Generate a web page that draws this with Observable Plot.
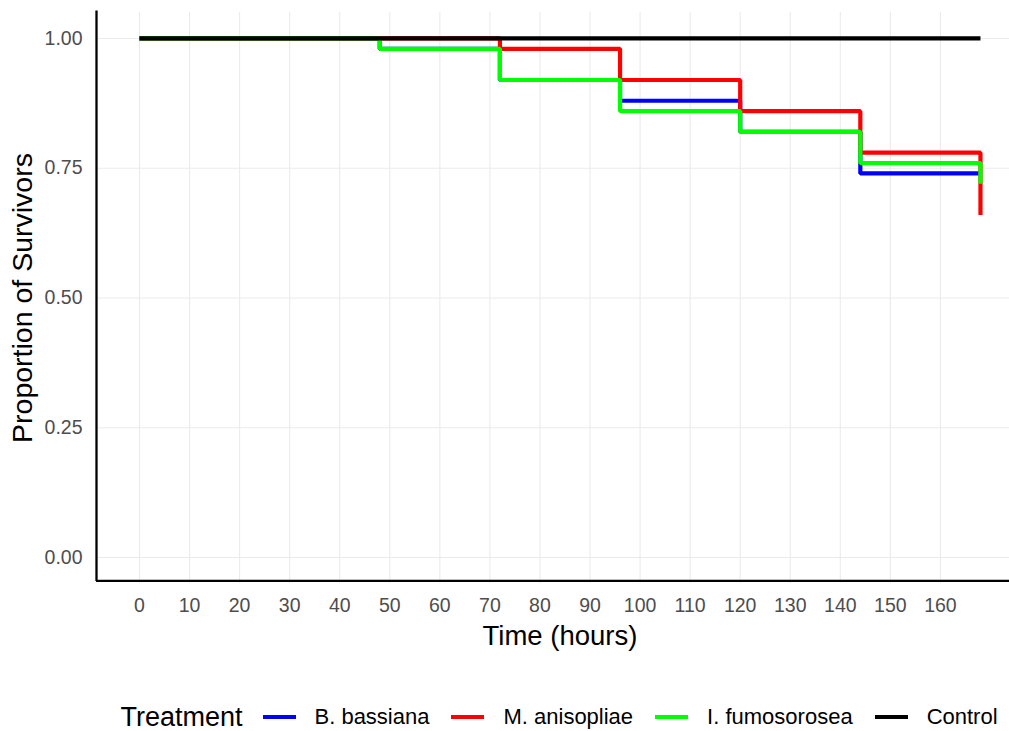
<!DOCTYPE html>
<html>
<head>
<meta charset="utf-8">
<script src="https://cdn.jsdelivr.net/npm/d3@7"></script>
<script src="https://cdn.jsdelivr.net/npm/@observablehq/plot@0.6"></script>
<style>
  html, body { margin: 0; padding: 0; background: #fff; overflow: hidden; }
  body { width: 1009px; height: 731px; font-family: "Liberation Sans", Arial, sans-serif; }
  #legend { box-sizing: border-box; width: 1009px; padding-left: 109px; height: 74px; display: flex; justify-content: center; align-items: center; font-family: "Liberation Sans", Arial, sans-serif; color: #000; white-space: nowrap; line-height: 1; }
  #legend .title { font-size: 27px; margin-right: 20px; line-height: 1; }
  #legend .key { width: 33px; height: 4px; margin-right: 19px; flex: none; }
  #legend .lab { font-size: 22px; margin-right: 22px; line-height: 1; }
</style>
</head>
<body>
<div id="chart"></div>
<div id="legend"></div>
<script>
// Data
const times = [0, 48, 72, 96, 120, 144, 168];
const series = ["B. bassiana", "M. anisopliae", "I. fumosorosea", "Control"];
const colors = ["#0000FF", "#FF0000", "#00FF00", "#000000"];
const bBassiana = [1.00, 0.98, 0.92, 0.88, 0.82, 0.74, 0.74];
const mAnisopliae = [1.00, 1.00, 0.98, 0.92, 0.86, 0.78, 0.66];
const iFumosorosea = [1.00, 0.98, 0.92, 0.86, 0.82, 0.76, 0.72];
const control = [1.00, 1.00, 1.00, 1.00, 1.00, 1.00, 1.00];
const xTicks = [0, 10, 20, 30, 40, 50, 60, 70, 80, 90, 100, 110, 120, 130, 140, 150, 160];
const yTicks = [0, 0.25, 0.5, 0.75, 1];

const values = [bBassiana, mAnisopliae, iFumosorosea, control];
const rows = [];
series.forEach((s, i) => times.forEach((t, j) => rows.push({treatment: s, time: t, surv: values[i][j]})));

const xDomain = [-8.59, 173.8];
const yDomain = [-0.05, 1.05];

const chart = Plot.plot({
  width: 1009,
  height: 680,
  marginLeft: 96,
  marginRight: 0,
  marginTop: 12,
  marginBottom: 97,
  style: {fontFamily: "Liberation Sans, Arial, sans-serif", background: "#fff"},
  x: {domain: xDomain},
  y: {domain: yDomain},
  color: {domain: series, range: colors},
  marks: [
    Plot.gridX(xTicks, {stroke: "#EBEBEB", strokeOpacity: 1, strokeWidth: 1.1}),
    Plot.gridY(yTicks, {stroke: "#EBEBEB", strokeOpacity: 1, strokeWidth: 1.1}),
    Plot.axisX(xTicks, {tickSize: 0, tickPadding: 15, fontSize: 19.5, fill: "#4D4D4D", label: null}),
    Plot.axisY(yTicks, {tickSize: 0, tickPadding: 14, fontSize: 19.5, fill: "#4D4D4D", label: null, tickFormat: d3.format(".2f")}),
    Plot.line(rows, {x: "time", y: "surv", z: "treatment", stroke: "treatment", strokeWidth: 4.2, curve: "step-after", strokeLinejoin: "miter", strokeLinecap: "butt"}),
    Plot.ruleX([xDomain[0]], {stroke: "#000", strokeWidth: 2.3, y1: yDomain[1] + 0.003, y2: -0.046}),
    Plot.ruleY([-0.045], {stroke: "#000", strokeWidth: 2.3, x1: xDomain[0], x2: xDomain[1]}),
    Plot.text(["Time (hours)"], {frameAnchor: "bottom", dx: 7, dy: 61, fontSize: 27.5, fill: "#000"}),
    Plot.text(["Proportion of Survivors"], {frameAnchor: "left", textAnchor: "middle", dx: -74, rotate: -90, fontSize: 28.5, fill: "#000"})
  ]
});
document.getElementById("chart").appendChild(chart);

const legend = document.getElementById("legend");
const t = document.createElement("span");
t.className = "title";
t.textContent = "Treatment";
legend.appendChild(t);
series.forEach((s, i) => {
  const k = document.createElement("span");
  k.className = "key";
  k.style.background = colors[i];
  legend.appendChild(k);
  const l = document.createElement("span");
  l.className = "lab";
  l.textContent = s;
  if (i === series.length - 1) l.style.marginRight = "0";
  legend.appendChild(l);
});
</script>
</body>
</html>
